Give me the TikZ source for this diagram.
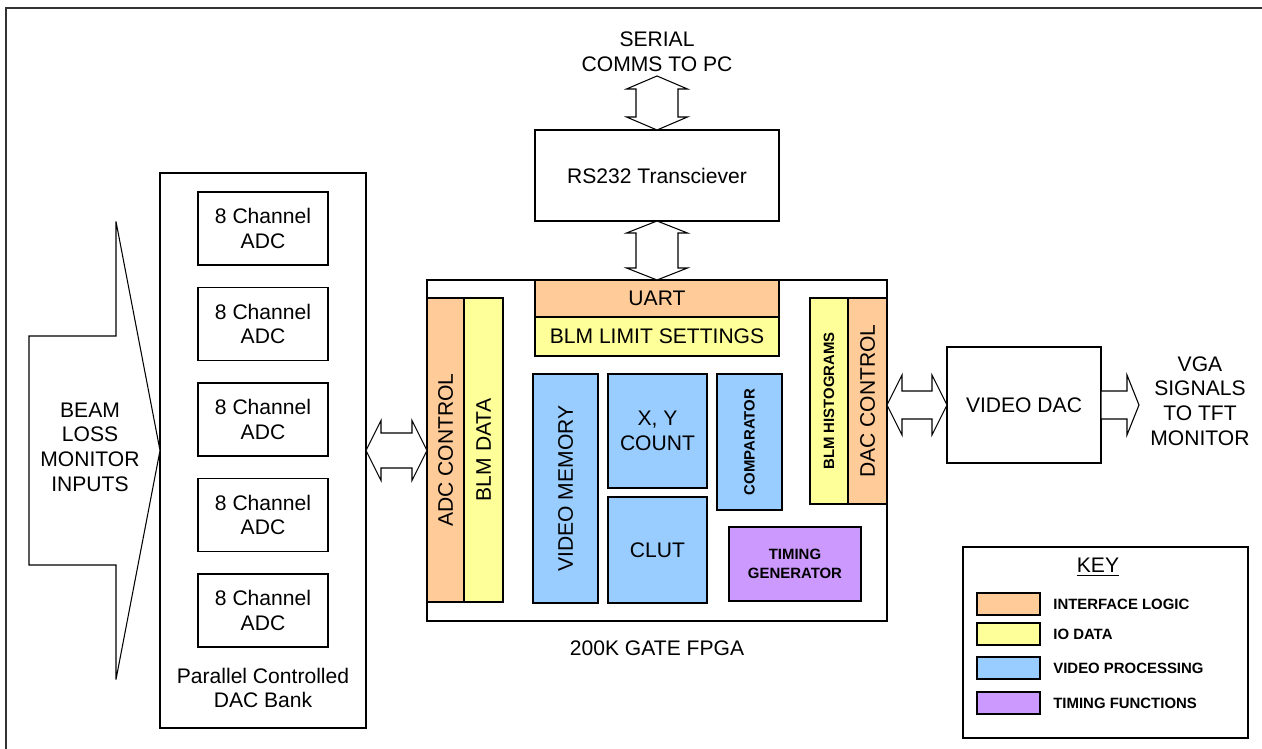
\documentclass[tikz,border=0pt]{standalone}
\usepackage{fontspec}
\setmainfont{Liberation Sans}
\usetikzlibrary{positioning,calc}
\tikzstyle{pixelGrid} = [x = 0.02cm, y = -0.02cm]
\definecolor{interfaceColor}{RGB}{255,204,153}
\definecolor{ioColor}{RGB}{255,255,153}
\definecolor{videoColor}{RGB}{153,204,255}
\definecolor{timingColor}{RGB}{204,153,255}
\newcommand{\pxLen}{0.02cm}
\newcommand{\mainText}{\fontsize{12}{14}\selectfont}
\newcommand{\smallText}{\fontsize{8.5}{10.5}\selectfont\bfseries}
\tikzstyle{blockStyle} = [draw=black, line width=0.8pt, fill=white, inner sep=0pt, outer sep=0pt, align=center, font=\mainText]
\tikzstyle{interfaceBlock} = [blockStyle, fill=interfaceColor]
\tikzstyle{ioBlock} = [blockStyle, fill=ioColor]
\tikzstyle{videoBlock} = [blockStyle, fill=videoColor]
\tikzstyle{timingBlock} = [blockStyle, fill=timingColor]
\tikzstyle{smallLabel} = [font=\smallText]
\tikzstyle{plainText} = [inner sep=0pt, align=center, font=\mainText]
\tikzstyle{keyLabel} = [inner sep=0pt, anchor=west, font=\smallText]
\tikzstyle{arrowOutline} = [draw=black, line width=0.6pt, fill=white, line join=miter]
\tikzstyle{frameLine} = [draw=black!80, line width=1pt]
\newcommand{\block}[7]{\node [#2, minimum width = {(#5 - #3) * \pxLen}, minimum height = {(#6 - #4) * \pxLen}] (#1) at ({(#3 + #5) / 2}, {(#4 + #6) / 2}) {#7};}
\newcommand{\horizontalDoubleArrow}[5]{\draw [arrowOutline] let \p1 = (#1), \p2 = (#2) in
  (\x1, \y1) -- ({\x1 + #5 * \pxLen}, {\y1 + #4 * \pxLen}) -- ({\x1 + #5 * \pxLen}, {\y1 + #3 * \pxLen})
  -- ({\x2 - #5 * \pxLen}, {\y1 + #3 * \pxLen}) -- ({\x2 - #5 * \pxLen}, {\y1 + #4 * \pxLen}) -- (\x2, \y1)
  -- ({\x2 - #5 * \pxLen}, {\y1 - #4 * \pxLen}) -- ({\x2 - #5 * \pxLen}, {\y1 - #3 * \pxLen})
  -- ({\x1 + #5 * \pxLen}, {\y1 - #3 * \pxLen}) -- ({\x1 + #5 * \pxLen}, {\y1 - #4 * \pxLen}) -- cycle;}
\newcommand{\verticalDoubleArrow}[5]{\draw [arrowOutline] let \p1 = (#1), \p2 = (#2) in
  (\x1, \y1) -- ({\x1 + #4 * \pxLen}, {\y1 - #5 * \pxLen}) -- ({\x1 + #3 * \pxLen}, {\y1 - #5 * \pxLen})
  -- ({\x1 + #3 * \pxLen}, {\y2 + #5 * \pxLen}) -- ({\x1 + #4 * \pxLen}, {\y2 + #5 * \pxLen}) -- (\x1, \y2)
  -- ({\x1 - #4 * \pxLen}, {\y2 + #5 * \pxLen}) -- ({\x1 - #3 * \pxLen}, {\y2 + #5 * \pxLen})
  -- ({\x1 - #3 * \pxLen}, {\y1 - #5 * \pxLen}) -- ({\x1 - #4 * \pxLen}, {\y1 - #5 * \pxLen}) -- cycle;}
\newcommand{\singleArrow}[5]{\draw [arrowOutline] let \p1 = (#1), \p2 = (#2) in
  (\x1, {\y1 + #3 * \pxLen}) -- ({\x2 - #5 * \pxLen}, {\y1 + #3 * \pxLen}) -- ({\x2 - #5 * \pxLen}, {\y1 + #4 * \pxLen})
  -- (\x2, \y1) -- ({\x2 - #5 * \pxLen}, {\y1 - #4 * \pxLen}) -- ({\x2 - #5 * \pxLen}, {\y1 - #3 * \pxLen})
  -- (\x1, {\y1 - #3 * \pxLen}) -- cycle;}

\begin{document}
\begin{tikzpicture}[pixelGrid]
  \useasboundingbox (0, 0) rectangle (1262, 749);
  \draw [frameLine] (6, 749) -- (6, 8) -- (1262, 8);

  % DAC bank with its converters
  \block{dacBank}{blockStyle}{160}{173}{366}{728}{}
  \foreach \row in {0,...,4} {
    \pgfmathsetmacro{\adcTop}{192 + 95.5 * \row}
    \block{adc\row}{blockStyle}{198}{\adcTop}{328}{\adcTop + 73}{8 Channel\\ADC}
  }
  \node [plainText] (bankLabel) at (263, 688) {Parallel Controlled\\DAC Bank};

  % FPGA
  \block{fpga}{blockStyle}{427}{280}{887}{621}{}
  \block{adcControl}{interfaceBlock}{427}{298}{464}{602}{\rotatebox{90}{ADC CONTROL}}
  \block{blmData}{ioBlock}{464}{298}{503}{602}{\rotatebox{90}{BLM DATA}}
  \block{uart}{interfaceBlock}{535}{280}{779}{317}{UART}
  \block{blmLimits}{ioBlock}{535}{317}{779}{356}{BLM LIMIT SETTINGS}
  \block{videoMemory}{videoBlock}{533}{374}{598}{603}{\rotatebox{90}{VIDEO MEMORY}}
  \block{xyCount}{videoBlock}{608}{374}{707}{488}{X, Y\\COUNT}
  \block{clut}{videoBlock}{608}{497}{707}{603}{CLUT}
  \block{comparator}{videoBlock, smallLabel}{717}{374}{782}{510}{\rotatebox{90}{COMPARATOR}}
  \block{timingGen}{timingBlock, smallLabel}{729}{527}{861}{601}{TIMING\\GENERATOR}
  \block{blmHistograms}{ioBlock, smallLabel}{810}{298}{848}{504}{\rotatebox{90}{BLM HISTOGRAMS}}
  \block{dacControl}{interfaceBlock}{848}{298}{887}{504}{\rotatebox{90}{DAC CONTROL}}
  \node [plainText] (fpgaLabel) at (657, 648) {200K GATE FPGA};

  % serial side
  \block{rsTransceiver}{blockStyle}{535}{130}{779}{221}{RS232 Transciever}
  \node [plainText] (serialText) at (657, 52) {SERIAL\\COMMS TO PC};
  \coordinate (serialTip) at (657, 76);

  % video side
  \block{videoDac}{blockStyle}{947}{347}{1101}{463}{VIDEO DAC}
  \node [plainText] (vgaText) at (1200, 401) {VGA\\SIGNALS\\TO TFT\\MONITOR};
  \coordinate (vgaTip) at ($(videoDac.east) + (38, 0)$);
  \coordinate (fpgaPort) at (fpga.east |- videoDac.west);

  % inputs
  \coordinate (beamTail) at (29, 450.5);
  \singleArrow{beamTail}{dacBank.west}{114.5}{229}{44}
  \node [plainText] (beamText) at (90, 447) {BEAM\\LOSS\\MONITOR\\INPUTS};

  \horizontalDoubleArrow{dacBank.east}{fpga.west}{17.5}{30}{15}
  \horizontalDoubleArrow{fpgaPort}{videoDac.west}{14}{30}{15}
  \singleArrow{videoDac.east}{vgaTip}{14}{30}{12}
  \verticalDoubleArrow{serialTip}{rsTransceiver.north}{21}{30.5}{13}
  \verticalDoubleArrow{rsTransceiver.south}{fpga.north}{21}{30.5}{12}

  % key
  \block{keyBox}{blockStyle}{963}{547}{1248}{738}{}
  \node [plainText] (keyTitle) at (1098, 567) {\underline{KEY}};
  \foreach \swatchTop/\swatchColor/\swatchText/\swatchName in {593/interfaceColor/INTERFACE LOGIC/keyInterface, 623/ioColor/IO DATA/keyIo, 657/videoColor/VIDEO PROCESSING/keyVideo, 692/timingColor/TIMING FUNCTIONS/keyTiming} {
    \block{\swatchName}{blockStyle, fill=\swatchColor, line width=1.1pt}{977}{\swatchTop}{1040}{\swatchTop + 22}{}
    \node [keyLabel, right = 0.26cm of \swatchName] (\swatchName-label) {\swatchText};
  }
\end{tikzpicture}
\end{document}
